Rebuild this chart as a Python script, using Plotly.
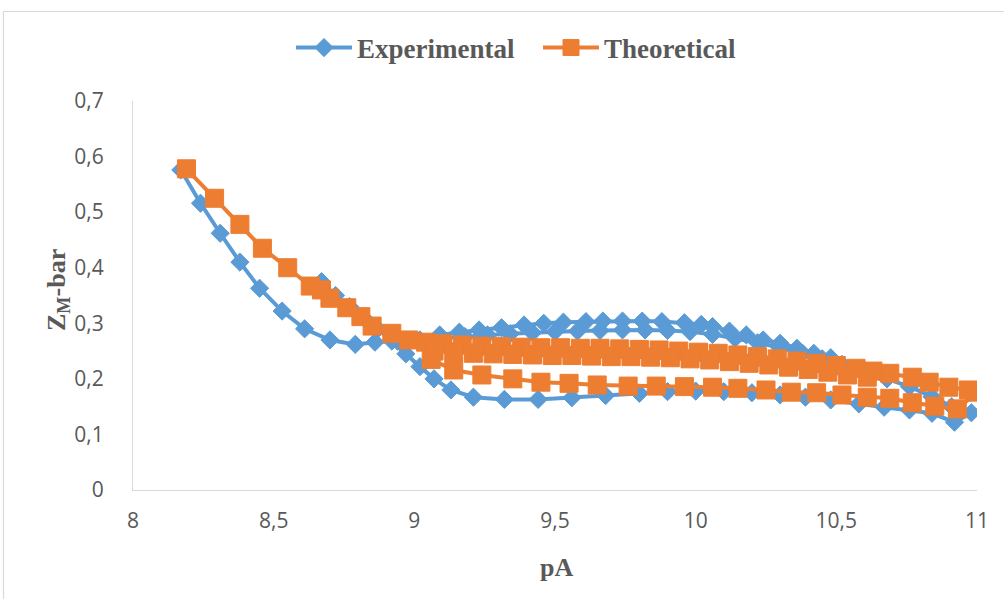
import plotly.graph_objects as go

# ---------------- data ----------------
# Experimental: descending branch -> second upper row -> declining tail -> lower return row -> diagonal up
exp_x = [8.17, 8.24, 8.31, 8.38, 8.45, 8.53, 8.61, 8.70, 8.79,
         8.86, 8.94, 9.02, 9.10, 9.18, 9.26, 9.34, 9.42, 9.50, 9.58, 9.66, 9.74, 9.82, 9.90, 9.98,
         10.06, 10.14, 10.22, 10.30, 10.38,
         10.45, 10.52, 10.60, 10.68, 10.76, 10.84, 10.91, 10.98,
         10.92, 10.84, 10.76, 10.67, 10.58, 10.48, 10.39, 10.30, 10.20, 10.10, 10.00, 9.90,
         9.80, 9.68, 9.56, 9.44, 9.32, 9.21, 9.13,
         9.07, 9.02, 8.97, 8.92, 8.87, 8.82, 8.77, 8.72, 8.67,
         None,
         9.09, 9.16, 9.23, 9.31, 9.39, 9.46, 9.53, 9.61, 9.67, 9.74, 9.81, 9.88, 9.96,
         10.02, 10.06, 10.12, 10.18, 10.24, 10.30, 10.36, 10.42, 10.48]
exp_y = [0.576, 0.516, 0.462, 0.410, 0.363, 0.322, 0.290, 0.270, 0.262,
         0.266, 0.268, 0.270, 0.273, 0.276, 0.279, 0.281, 0.283, 0.285, 0.286, 0.287, 0.288, 0.288, 0.287, 0.285,
         0.280, 0.273, 0.265, 0.256, 0.246,
         0.236, 0.226, 0.214, 0.200, 0.186, 0.168, 0.150, 0.139,
         0.122, 0.138, 0.144, 0.149, 0.155, 0.162, 0.167, 0.171, 0.175, 0.177, 0.178, 0.177,
         0.174, 0.170, 0.166, 0.163, 0.163, 0.167, 0.180,
         0.200, 0.222, 0.245, 0.268, 0.290, 0.310, 0.330, 0.350, 0.375,
         None,
         0.279, 0.284, 0.288, 0.292, 0.297, 0.300, 0.302, 0.303, 0.304, 0.304, 0.304, 0.303, 0.301,
         0.298, 0.294, 0.286, 0.279, 0.270, 0.264, 0.255, 0.246, 0.238]

# Theoretical: descending branch -> dense upper band out to 11 -> lower return row
theo_x = [8.19, 8.29, 8.38, 8.46, 8.55, 8.63, 8.67, 8.70, 8.76, 8.81, 8.85, 8.92, 8.98,
          9.04, 9.10, 9.17, 9.24, 9.31, 9.38, 9.45, 9.52, 9.59, 9.66, 9.73, 9.80, 9.87, 9.94,
          10.01, 10.08, 10.15, 10.22, 10.29, 10.36, 10.43, 10.50, 10.57, 10.63, 10.69, 10.77,
          10.83, 10.90, 10.97, 11.00,
          10.93, 10.85, 10.77, 10.69, 10.61, 10.52, 10.43, 10.34, 10.25, 10.15, 10.06, 9.96,
          9.86, 9.76, 9.65, 9.55, 9.45, 9.35, 9.24, 9.14, 9.06,
          None,
          9.07, 9.14, 9.21, 9.28, 9.35, 9.42, 9.49, 9.56, 9.63, 9.70, 9.77, 9.84, 9.91,
          9.98, 10.05, 10.12, 10.19, 10.26, 10.33, 10.40, 10.47, 10.54, 10.61]
theo_y = [0.578, 0.525, 0.478, 0.435, 0.400, 0.367, 0.360, 0.345, 0.328, 0.312, 0.295, 0.282, 0.270,
          0.266, 0.263, 0.261, 0.259, 0.258, 0.257, 0.256, 0.256, 0.255, 0.255, 0.254, 0.253, 0.252, 0.250,
          0.248, 0.246, 0.243, 0.240, 0.236, 0.232, 0.228, 0.224, 0.219, 0.214, 0.210, 0.203,
          0.194, 0.185, 0.180, 0.176,
          0.146, 0.151, 0.157, 0.165, 0.167, 0.171, 0.175, 0.176, 0.180, 0.183, 0.185, 0.186,
          0.187, 0.187, 0.189, 0.192, 0.194, 0.200, 0.207, 0.216, 0.235,
          None,
          0.250, 0.248, 0.246, 0.245, 0.244, 0.243, 0.242, 0.242, 0.241, 0.240, 0.240, 0.239, 0.238,
          0.236, 0.234, 0.231, 0.228, 0.225, 0.221, 0.217, 0.212, 0.207, 0.203]

series_names = ["Experimental", "Theoretical"]
x_ticks = [8, 8.5, 9, 9.5, 10, 10.5, 11]
y_ticks = [0, 0.1, 0.2, 0.3, 0.4, 0.5, 0.6, 0.7]

BLUE = "#5B9BD5"
ORANGE = "#ED7D31"
GRAY = "#595959"

fig = go.Figure()
fig.add_trace(go.Scatter(
    x=exp_x, y=exp_y, name=series_names[0], mode="lines+markers",
    line=dict(color=BLUE, width=4),
    marker=dict(symbol="diamond", size=14, color=BLUE, line=dict(color=BLUE, width=1)),
    connectgaps=False,
))
fig.add_trace(go.Scatter(
    x=theo_x, y=theo_y, name=series_names[1], mode="lines+markers",
    line=dict(color=ORANGE, width=4),
    marker=dict(symbol="square", size=18, color=ORANGE, line=dict(color=ORANGE, width=1)),
    connectgaps=False,
))

W, H = 1004, 599
L, R, T, B = 133, 27, 101, 109
pw, ph = W - L - R, H - T - B

def px2paper_x(px):
    return (px - L) / pw

def px2paper_y(py):
    return (H - B - py) / ph

fig.update_layout(
    width=W, height=H,
    margin=dict(l=L, r=R, t=T, b=B, pad=0),
    paper_bgcolor="white", plot_bgcolor="white",
    separators=", ",
    showlegend=True,
    legend=dict(
        orientation="h", x=px2paper_x(538), y=px2paper_y(48),
        xanchor="center", yanchor="middle",
        font=dict(family="Liberation Serif", size=27, color=GRAY, weight="bold"),
        itemwidth=56, tracegroupgap=0, bgcolor="rgba(0,0,0,0)",
        entrywidth=176, entrywidthmode="pixels",
    ),
    xaxis=dict(
        range=[8, 11], tickvals=x_ticks, showgrid=False, zeroline=False,
        showline=True, linecolor="#D9D9D9", linewidth=1,
        ticks="", tickfont=dict(family="Open Sans", size=21, color=GRAY),
        ticklabelstandoff=12,
    ),
    yaxis=dict(
        range=[0, 0.7], tickvals=y_ticks, showgrid=False, zeroline=False,
        showline=True, linecolor="#D9D9D9", linewidth=1,
        ticks="", tickfont=dict(family="Open Sans", size=21, color=GRAY),
        ticklabelstandoff=24,
    ),
    shapes=[dict(type="rect", xref="paper", yref="paper",
                 x0=px2paper_x(3.5), x1=px2paper_x(1010),
                 y0=px2paper_y(610), y1=px2paper_y(11.5),
                 line=dict(color="#D9D9D9", width=1.2), fillcolor="rgba(0,0,0,0)", layer="above")],
    annotations=[
        dict(text="<b>pA</b>", xref="paper", yref="paper",
             x=px2paper_x(556), y=px2paper_y(567), xanchor="center", yanchor="middle",
             showarrow=False, font=dict(family="Liberation Serif", size=26, color=GRAY)),
        dict(text="<b>Z<sub>M</sub>-bar</b>", xref="paper", yref="paper",
             x=px2paper_x(58), y=px2paper_y(290), xanchor="center", yanchor="middle",
             textangle=-90, showarrow=False,
             font=dict(family="Liberation Serif", size=26, color=GRAY)),
    ],
)

fig.write_html("out.html")
